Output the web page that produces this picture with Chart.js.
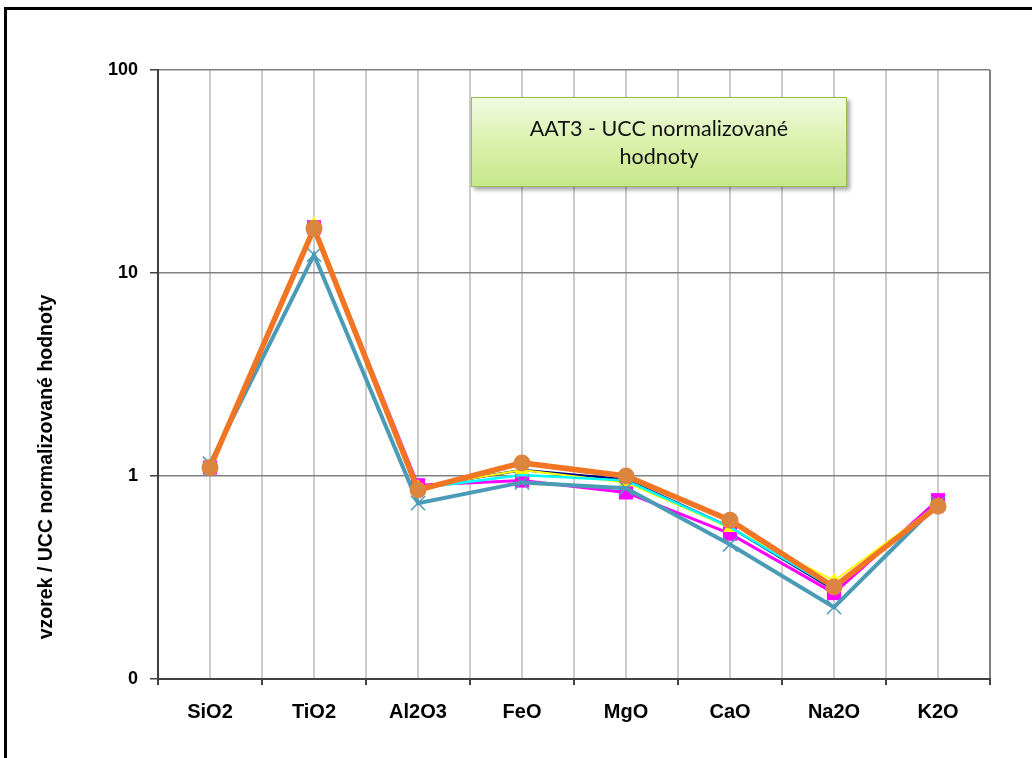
<!DOCTYPE html>
<html>
<head>
<meta charset="utf-8">
<script src="https://cdn.jsdelivr.net/npm/chart.js@4/dist/chart.umd.min.js"></script>
<style>
  html, body { margin: 0; padding: 0; background: #fff; }
  #wrap { position: relative; width: 1032px; height: 758px; overflow: hidden; }
  #frame { position: absolute; left: 4px; top: 7px; width: 1040px; height: 780px;
           border: 3px solid #000; box-sizing: border-box; pointer-events: none; }
  #note { position: absolute; left: 471px; top: 97px; width: 376px; height: 90px;
          box-sizing: border-box; border: 1px solid #9bbb59;
          background: linear-gradient(to bottom, #f2fbe0 0%, #d9f0a8 55%, #c6e78a 100%);
          box-shadow: 3px 3px 4px rgba(0,0,0,0.35);
          display: flex; align-items: center; justify-content: center; text-align: center;
          font-family: Lato, "Open Sans", sans-serif; font-size: 21.5px; line-height: 28px; color: #111; }
</style>
</head>
<body>
<div id="wrap">
  <canvas id="c" width="1032" height="758"></canvas>
  <div id="frame"></div>
  <div id="note">AAT3 - UCC normalizované<br>hodnoty</div>
</div>
<script>
// Oxide categories and UCC-normalised values for each sample
const categories = ["SiO2", "TiO2", "Al2O3", "FeO", "MgO", "CaO", "Na2O", "K2O"];
const yTicks = [0.1, 1, 10, 100];
const yTickLabels = ["0", "1", "10", "100"];
const yTitle = "vzorek / UCC normalizované hodnoty";

const navy    = [1.10, 17.0, 0.88, 1.07, 0.96, 0.56, 0.275, 0.73];
const magenta = [1.10, 16.8, 0.90, 0.95, 0.83, 0.52, 0.265, 0.76];
const yellow  = [1.10, 17.4, 0.88, 1.07, 0.93, 0.555, 0.305, 0.72];
const cyan    = [1.11, 16.2, 0.87, 1.01, 0.95, 0.56, 0.28, 0.73];
const teal    = [1.15, 12.3, 0.735, 0.93, 0.87, 0.46, 0.226, 0.73];
const orange  = [1.10, 16.6, 0.853, 1.16, 1.00, 0.605, 0.284, 0.71];

const pts = arr => arr.map((v, i) => ({ x: i, y: v }));
const fontFamily = "Liberation Sans, Arial, sans-serif";

const series = [
  { data: navy,    color: "#000080", width: 2.5, style: "circle",   r: 0,  fill: "#000080" },
  { data: magenta, color: "#ff00ff", width: 3,   style: "rect",     r: 10, fill: "#ff00ff" },
  { data: yellow,  color: "#ffff00", width: 2,   style: "triangle", r: 8,  fill: "#ffff00" },
  { data: cyan,    color: "#00ffff", width: 2.5, style: "circle",   r: 0,  fill: "#00ffff" },
  { data: teal,    color: "#4a9bb6", width: 4,   style: "crossRot", r: 10, fill: "#4a9bb6" },
  { data: orange,  color: "#f27524", width: 5.5, style: "circle",   r: 8.5, fill: "#db853e" }
];

// later series are painted on top of earlier ones
const datasets = series.map((s, i) => ({
  data: pts(s.data),
  order: series.length - i,
  borderColor: s.color,
  borderWidth: s.width,
  pointStyle: s.style,
  pointRadius: s.r,
  pointBackgroundColor: s.fill,
  pointBorderColor: s.style === "crossRot" ? s.color : s.fill,
  pointBorderWidth: s.style === "crossRot" ? 1.5 : 0,
  tension: 0
}));

// rotated y-axis caption
const yCaption = {
  id: "yCaption",
  afterDraw(chart) {
    const ctx = chart.ctx;
    ctx.save();
    ctx.translate(47, 467);
    ctx.rotate(-Math.PI / 2);
    ctx.font = "bold 19.5px 'Liberation Sans', Arial, sans-serif";
    ctx.fillStyle = "#000";
    ctx.textAlign = "center";
    ctx.textBaseline = "middle";
    ctx.fillText(yTitle, 0, 0);
    ctx.restore();
  }
};

new Chart(document.getElementById("c"), {
  type: "line",
  data: { datasets },
  plugins: [yCaption],
  options: {
    responsive: false,
    animation: false,
    events: [],
    layout: { padding: { left: 30, right: 42, top: 70, bottom: 19 } },
    plugins: { legend: { display: false }, tooltip: { enabled: false } },
    scales: {
      x: {
        type: "linear",
        min: -0.5, max: 7.5,
        afterBuildTicks: s => {
          const t = [];
          for (let v = -0.5; v <= 7.5001; v += 0.5) t.push({ value: v });
          s.ticks = t;
        },
        afterFit: s => { s.height = 60; },
        ticks: {
          autoSkip: false, maxRotation: 0, padding: 15,
          color: "#000",
          font: { family: fontFamily, size: 20, weight: "bold" },
          callback: v => Number.isInteger(v) ? categories[v] : ""
        },
        grid: {
          color: ctx => (ctx.tick && Math.abs(ctx.tick.value - 7.5) < 1e-6) ? "#808080" : "#cccccc",
          lineWidth: 2,
          tickLength: 6,
          tickColor: ctx => (ctx.tick && !Number.isInteger(ctx.tick.value)) ? "#404040" : "rgba(0,0,0,0)"
        },
        border: { color: "#404040", width: 2 }
      },
      y: {
        type: "logarithmic",
        min: 0.1, max: 100,
        afterBuildTicks: s => { s.ticks = yTicks.map(v => ({ value: v })); },
        afterFit: s => { s.width = 128; },
        ticks: {
          padding: 12,
          color: "#000",
          font: { family: fontFamily, size: 18, weight: "bold" },
          callback: v => yTickLabels[yTicks.indexOf(v)]
        },
        grid: { color: "#808080", lineWidth: 1.5, tickLength: 8, tickColor: "#404040" },
        border: { color: "#404040", width: 2 }
      }
    }
  }
});
</script>
</body>
</html>
